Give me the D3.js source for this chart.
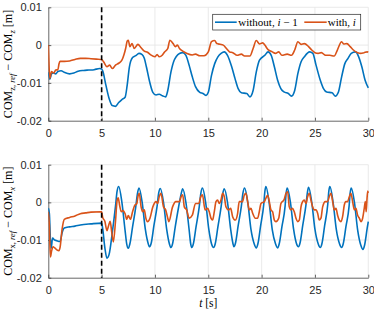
<!DOCTYPE html>
<html><head><meta charset="utf-8">
<script src="https://cdn.jsdelivr.net/npm/d3@7/dist/d3.min.js"></script>
<style>body{margin:0;background:#fff}svg{display:block}</style></head>
<body><svg id="c" width="374" height="310"></svg>
<script>
// ---------- data ----------
const xTicks = [0, 5, 10, 15, 20, 25, 30];
const yTicks = [0.01, 0, -0.01, -0.02];
const yTickLabels = ["0.01", "0", "-0.01", "-0.02"];
const switchTime = 5;
const legendLabels = ["without", "with"];

// top panel, COM_z, [t, value]
const topWithout = [[0,-0.0072],[0.15,-0.0090],[0.3,-0.0076],[0.5,-0.0074],[0.7,-0.0076],[0.9,-0.0070],[1.2,-0.0068],[1.5,-0.0072],[2.0,-0.0076],[2.4,-0.0074],[2.8,-0.0069],[3.3,-0.0067],[3.8,-0.0066],[4.3,-0.0065],[4.8,-0.0062],[5.0,-0.0063],[5.1,-0.0068],[5.4,-0.0106],[5.7,-0.0141],[6.0,-0.0160],[6.3,-0.0162],[6.6,-0.0152],[6.9,-0.0144],[7.2,-0.0138],[7.4,-0.0105],[7.6,-0.0058],[7.9,-0.0033],[8.2,-0.0028],[8.5,-0.0022],[8.8,-0.0025],[9.0,-0.0035],[9.2,-0.0058],[9.5,-0.0097],[9.8,-0.0125],[10.1,-0.0132],[10.4,-0.0130],[10.7,-0.0134],[11.0,-0.0137],[11.2,-0.0120],[11.5,-0.0071],[11.8,-0.0040],[12.0,-0.0030],[12.3,-0.0022],[12.6,-0.0020],[12.9,-0.0027],[13.2,-0.0053],[13.5,-0.0084],[13.8,-0.0110],[14.2,-0.0125],[14.5,-0.0128],[14.8,-0.0133],[15.0,-0.0125],[15.3,-0.0080],[15.6,-0.0049],[15.9,-0.0031],[16.2,-0.0022],[16.5,-0.0018],[16.8,-0.0027],[17.2,-0.0058],[17.5,-0.0088],[17.8,-0.0115],[18.1,-0.0126],[18.6,-0.0128],[18.9,-0.0137],[19.2,-0.0120],[19.5,-0.0071],[19.8,-0.0040],[20.3,-0.0027],[20.6,-0.0018],[20.9,-0.0027],[21.2,-0.0058],[21.5,-0.0093],[21.8,-0.0115],[22.1,-0.0124],[22.5,-0.0128],[22.8,-0.0135],[23.1,-0.0120],[23.4,-0.0075],[23.7,-0.0044],[24.0,-0.0031],[24.5,-0.0018],[24.8,-0.0022],[25.1,-0.0053],[25.5,-0.0093],[25.8,-0.0115],[26.1,-0.0124],[26.6,-0.0126],[26.9,-0.0135],[27.2,-0.0124],[27.5,-0.0084],[27.8,-0.0049],[28.1,-0.0035],[28.4,-0.0022],[28.8,-0.0018],[29.1,-0.0031],[29.4,-0.0058],[29.7,-0.0093],[30.0,-0.0113]];
const topWith = [[0,0.0],[0.05,-0.0040],[0.15,-0.0088],[0.3,-0.0070],[0.5,-0.0074],[0.7,-0.0066],[0.9,-0.0065],[1.0,-0.0050],[1.1,-0.0043],[1.5,-0.0043],[2.0,-0.0042],[2.5,-0.0038],[3.0,-0.0035],[3.5,-0.0035],[4.0,-0.0036],[4.5,-0.0037],[5.0,-0.0038],[5.2,-0.0045],[5.5,-0.0057],[5.75,-0.0053],[6.0,-0.0062],[6.3,-0.0053],[6.6,-0.0048],[6.9,-0.0040],[7.1,-0.0025],[7.25,-0.0009],[7.4,0.0011],[7.5,0.0013],[7.65,-0.0004],[7.85,0.0004],[8.06,-0.0009],[8.4,0.0002],[8.7,-0.0007],[9.0,-0.0016],[9.3,-0.0019],[9.6,-0.0026],[10.0,-0.0031],[10.2,-0.0025],[10.4,-0.0031],[10.7,-0.0026],[10.9,-0.0018],[11.2,-0.0009],[11.4,0.0013],[11.7,0.0004],[11.9,-0.0004],[12.1,0.0000],[12.3,-0.0009],[12.6,-0.0016],[13.0,-0.0022],[13.5,-0.0026],[13.8,-0.0024],[14.2,-0.0028],[14.6,-0.0028],[15.0,-0.0018],[15.3,0.0009],[15.6,0.0012],[15.8,0.0004],[16.1,0.0002],[16.4,0.0000],[16.7,-0.0009],[17.0,-0.0018],[17.3,-0.0020],[17.7,-0.0027],[18.1,-0.0024],[18.4,-0.0029],[18.9,-0.0029],[19.2,-0.0009],[19.5,0.0012],[19.8,0.0003],[20.1,0.0006],[20.3,0.0000],[20.6,-0.0012],[21.0,-0.0018],[21.3,-0.0022],[21.6,-0.0018],[21.9,-0.0027],[22.4,-0.0024],[22.8,-0.0027],[23.1,-0.0013],[23.4,0.0009],[23.7,0.0002],[24.0,0.0004],[24.4,-0.0004],[24.7,-0.0013],[25.0,-0.0020],[25.3,-0.0022],[25.6,-0.0020],[26.0,-0.0027],[26.4,-0.0027],[26.8,-0.0029],[27.1,-0.0013],[27.5,0.0009],[27.7,0.0003],[28.0,0.0004],[28.3,-0.0004],[28.6,-0.0013],[29.0,-0.0020],[29.3,-0.0022],[29.6,-0.0020],[29.9,-0.0018],[30.0,-0.0019]];

// bottom panel, COM_x, [t, value]
const botWithout = [[0,-0.0015],[0.1,-0.0030],[0.2,-0.0100],[0.27,-0.0122],[0.4,-0.0095],[0.6,-0.0100],[0.8,-0.0102],[1.1,-0.0104],[1.3,-0.0080],[1.5,-0.0068],[2.0,-0.0065],[2.5,-0.0063],[3.0,-0.0060],[4.0,-0.0057],[5.0,-0.0055],[5.1,-0.0070],[5.3,-0.0120],[5.5,-0.0148],[5.7,-0.0138],[6.0,-0.0080],[6.3,-0.0010],[6.45,0.0030],[6.6,0.0042],[6.9,0.0000],[7.2,-0.0075],[7.35,-0.0110],[7.5,-0.0122],[7.65,-0.0110],[7.9,-0.0065],[8.2,-0.0012],[8.35,0.0022],[8.5,0.0038],[8.8,0.0000],[9.1,-0.0072],[9.35,-0.0108],[9.5,-0.0118],[9.65,-0.0108],[9.9,-0.0062],[10.2,-0.0010],[10.35,0.0025],[10.5,0.0037],[10.8,0.0000],[11.1,-0.0072],[11.35,-0.0110],[11.5,-0.0120],[11.65,-0.0110],[11.9,-0.0065],[12.2,-0.0015],[12.45,0.0022],[12.6,0.0036],[12.9,0.0000],[13.2,-0.0072],[13.35,-0.0110],[13.45,-0.0120],[13.6,-0.0110],[13.85,-0.0065],[14.15,-0.0012],[14.3,0.0024],[14.45,0.0038],[14.75,0.0000],[15.05,-0.0072],[15.3,-0.0110],[15.5,-0.0120],[15.65,-0.0110],[15.9,-0.0065],[16.2,-0.0012],[16.35,0.0022],[16.5,0.0036],[16.8,0.0000],[17.1,-0.0072],[17.3,-0.0108],[17.4,-0.0118],[17.55,-0.0108],[17.8,-0.0062],[18.1,-0.0010],[18.25,0.0025],[18.4,0.0038],[18.7,0.0000],[19.0,-0.0072],[19.3,-0.0110],[19.5,-0.0121],[19.65,-0.0110],[19.9,-0.0063],[20.2,-0.0005],[20.3,0.0028],[20.4,0.0042],[20.7,0.0000],[21.0,-0.0073],[21.3,-0.0110],[21.5,-0.0121],[21.65,-0.0110],[21.9,-0.0065],[22.2,-0.0010],[22.3,0.0025],[22.4,0.0038],[22.7,0.0000],[23.0,-0.0072],[23.25,-0.0108],[23.45,-0.0118],[23.6,-0.0108],[23.85,-0.0062],[24.15,-0.0008],[24.3,0.0028],[24.4,0.0040],[24.7,0.0000],[25.0,-0.0072],[25.3,-0.0110],[25.5,-0.0120],[25.65,-0.0110],[25.9,-0.0063],[26.2,-0.0005],[26.3,0.0030],[26.4,0.0042],[26.7,0.0000],[27.0,-0.0072],[27.3,-0.0110],[27.5,-0.0120],[27.65,-0.0110],[27.9,-0.0065],[28.2,-0.0010],[28.3,0.0025],[28.4,0.0038],[28.7,0.0000],[29.0,-0.0073],[29.3,-0.0114],[29.5,-0.0125],[29.65,-0.0114],[29.9,-0.0068],[30.0,-0.0051]];
const botWith = [[0,-0.0025],[0.1,-0.0060],[0.2,-0.0145],[0.3,-0.0130],[0.45,-0.0118],[0.6,-0.0121],[0.8,-0.0126],[1.0,-0.0128],[1.1,-0.0120],[1.3,-0.0070],[1.5,-0.0045],[2.0,-0.0040],[2.5,-0.0036],[3.0,-0.0030],[3.5,-0.0028],[4.0,-0.0026],[5.0,-0.0025],[5.1,-0.0040],[5.3,-0.0050],[5.5,-0.0075],[5.65,-0.0062],[5.8,-0.0050],[5.95,-0.0080],[6.1,-0.0105],[6.3,-0.0050],[6.45,0.0005],[6.55,0.0012],[6.7,-0.0010],[6.85,-0.0025],[7.0,-0.0022],[7.2,-0.0030],[7.35,-0.0045],[7.5,-0.0035],[7.7,-0.0045],[7.9,-0.0025],[8.1,-0.0008],[8.3,-0.0003],[8.4,0.0015],[8.53,0.0024],[8.7,-0.0012],[8.85,-0.0025],[9.0,-0.0020],[9.15,-0.0042],[9.3,-0.0051],[9.53,-0.0042],[9.8,-0.0012],[10.1,0.0002],[10.25,-0.0003],[10.4,0.0015],[10.56,0.0024],[10.8,-0.0012],[11.0,-0.0020],[11.2,-0.0042],[11.3,-0.0051],[11.65,-0.0012],[11.96,0.0002],[12.3,0.0002],[12.45,0.0015],[12.6,0.0020],[12.75,-0.0012],[12.97,-0.0020],[13.2,-0.0042],[13.5,-0.0034],[13.8,-0.0003],[14.1,-0.0003],[14.3,0.0015],[14.45,0.0020],[14.7,-0.0020],[14.94,-0.0016],[15.09,-0.0025],[15.25,-0.0042],[15.4,-0.0047],[15.56,-0.0025],[15.72,0.0002],[15.87,0.0006],[16.03,-0.0003],[16.19,0.0006],[16.34,0.0024],[16.5,0.0015],[16.66,-0.0012],[16.9,-0.0020],[17.1,-0.0016],[17.28,-0.0038],[17.53,-0.0047],[17.75,-0.0029],[17.9,0.0002],[18.2,0.0002],[18.37,0.0019],[18.53,0.0024],[18.69,0.0002],[18.84,-0.0020],[19.0,-0.0016],[19.16,-0.0029],[19.4,-0.0042],[19.62,-0.0042],[19.78,-0.0025],[19.94,-0.0003],[20.25,0.0002],[20.4,0.0011],[20.56,0.0019],[20.72,0.0002],[20.87,-0.0020],[21.03,-0.0025],[21.19,-0.0047],[21.34,-0.0051],[21.6,-0.0042],[21.81,-0.0003],[22.12,0.0008],[22.28,0.0024],[22.44,0.0028],[22.59,-0.0012],[22.75,-0.0020],[22.9,-0.0016],[23.06,-0.0025],[23.22,-0.0042],[23.37,-0.0051],[23.53,-0.0047],[23.69,-0.0012],[23.84,0.0002],[24.0,0.0006],[24.16,-0.0003],[24.31,0.0015],[24.47,0.0024],[24.62,0.0006],[24.78,-0.0012],[24.94,-0.0020],[25.09,-0.0020],[25.25,-0.0029],[25.4,-0.0047],[25.56,-0.0042],[25.72,-0.0012],[25.97,0.0002],[26.19,0.0002],[26.34,0.0015],[26.5,0.0024],[26.66,0.0002],[26.81,-0.0020],[26.97,-0.0016],[27.12,-0.0034],[27.28,-0.0047],[27.44,-0.0051],[27.59,-0.0038],[27.75,-0.0007],[27.9,0.0002],[28.06,0.0002],[28.22,0.0015],[28.37,0.0024],[28.53,0.0002],[28.69,-0.0020],[28.84,-0.0016],[29.0,-0.0034],[29.16,-0.0042],[29.31,-0.0051],[29.47,-0.0042],[29.62,-0.0016],[29.72,0.0002],[29.8,-0.0025],[29.88,0.0010],[29.95,0.0030],[30.0,0.0025]];

// ---------- drawing ----------
const colors = ["#0072BD", "#D95319"];
const svg = d3.select("#c");
const left = 48.3, right = 368.3;
const x = d3.scaleLinear().domain([0, 30]).range([left, right]);
const panels = [
  {top: 7.3, bottom: 120.7, series: [topWithout, topWith], sub: "z"},
  {top: 164.7, bottom: 277.7, series: [botWithout, botWith], sub: "x"}
];
const tickFont = "'Liberation Sans', Arial, Helvetica, sans-serif";
const serif = "'Liberation Serif', 'Times New Roman', serif";

panels.forEach((p, pi) => {
  const y = d3.scaleLinear().domain([-0.02, 0.01]).range([p.bottom, p.top]);
  const g = svg.append("g");
  // grid
  g.selectAll(".gx").data(xTicks.filter(t => t > 0)).join("line")
    .attr("x1", d => x(d)).attr("x2", d => x(d)).attr("y1", p.top).attr("y2", p.bottom)
    .attr("stroke", "#e4e4e4").attr("stroke-width", 0.8);
  g.selectAll(".gy").data(yTicks.filter(t => t > -0.02)).join("line")
    .attr("y1", d => y(d)).attr("y2", d => y(d)).attr("x1", left).attr("x2", right)
    .attr("stroke", "#e4e4e4").attr("stroke-width", 0.8);

  // axes
  const xa = g.append("g").attr("transform", `translate(0,${p.bottom})`)
    .call(d3.axisBottom(x).tickValues(xTicks).tickSizeInner(-3).tickSizeOuter(0).tickPadding(8.5).tickFormat(d3.format("d")));
  const ya = g.append("g").attr("transform", `translate(${left},0)`)
    .call(d3.axisLeft(y).tickValues(yTicks).tickSizeInner(-3).tickSizeOuter(0).tickPadding(6.5)
      .tickFormat((d, i) => yTickLabels[i]));
  [xa, ya].forEach(a => {
    a.select(".domain").attr("stroke", "#262626").attr("stroke-width", 0.7);
    a.selectAll(".tick line").attr("stroke", "#262626").attr("stroke-width", 0.7);
    a.selectAll("text").attr("fill", "#262626").style("font-family", tickFont).style("font-size", "11px");
  });

  // clip
  const cid = "clip" + pi;
  svg.append("clipPath").attr("id", cid).append("rect")
    .attr("x", left).attr("y", p.top - 1).attr("width", right - left + 1).attr("height", p.bottom - p.top + 1);

  const line = d3.line().x(d => x(d[0])).y(d => y(d[1])).curve(d3.curveMonotoneX);
  p.series.forEach((s, si) => {
    svg.append("path").datum(s).attr("clip-path", `url(#${cid})`)
      .attr("d", line).attr("fill", "none").attr("stroke", colors[si])
      .attr("stroke-width", 1.6).attr("stroke-linejoin", "round");
  });

  // dashed switch line
  svg.append("line").attr("x1", x(switchTime)).attr("x2", x(switchTime))
    .attr("y1", p.top).attr("y2", p.bottom)
    .attr("stroke", "#000").attr("stroke-width", 1.6).attr("stroke-dasharray", "5,3");

  // y label
  const cy = (p.top + p.bottom) / 2;
  const t = svg.append("text").attr("transform", `translate(12,${cy}) rotate(-90)`)
    .attr("text-anchor", "middle").style("font-family", serif).style("font-size", "12px").attr("fill", "#000");
  t.append("tspan").text("COM");
  t.append("tspan").attr("dy", 3).style("font-size", "8.5px").text(p.sub + ", ");
  t.append("tspan").style("font-size", "8.5px").style("font-style", "italic").text("ref");
  t.append("tspan").attr("dy", -3).text(" \u2212 COM");
  t.append("tspan").attr("dy", 3).style("font-size", "8.5px").style("font-style", "italic").text(p.sub);
  t.append("tspan").attr("dy", -3).text(" [m]");
});

// x label
const xl = svg.append("text").attr("x", x(15)).attr("y", 307).attr("text-anchor", "middle")
  .style("font-family", serif).style("font-size", "11.5px");
xl.append("tspan").style("font-style", "italic").text("t");
xl.append("tspan").text(" [s]");

// legend
const lg = svg.append("g");
lg.append("rect").attr("x", 212.7).attr("y", 14.3).attr("width", 148).attr("height", 15.7)
  .attr("fill", "#fff").attr("stroke", "#262626").attr("stroke-width", 0.7);
const items = [
  {x1: 215, x2: 236.7, tx: 238.3, parts: [[legendLabels[0] + ", ", false], ["i", true], [" \u2212 1", false]]},
  {x1: 304.3, x2: 326.7, tx: 327.7, parts: [[legendLabels[1] + ", ", false], ["i", true]]}
];
items.forEach((it, i) => {
  lg.append("line").attr("x1", it.x1).attr("x2", it.x2).attr("y1", 22.2).attr("y2", 22.2)
    .attr("stroke", colors[i]).attr("stroke-width", 1.6);
  const tx = lg.append("text").attr("x", it.tx).attr("y", 26).style("font-family", serif).style("font-size", "11px");
  it.parts.forEach(pp => tx.append("tspan").style("font-style", pp[1] ? "italic" : "normal").text(pp[0]));
});
</script></body></html>
